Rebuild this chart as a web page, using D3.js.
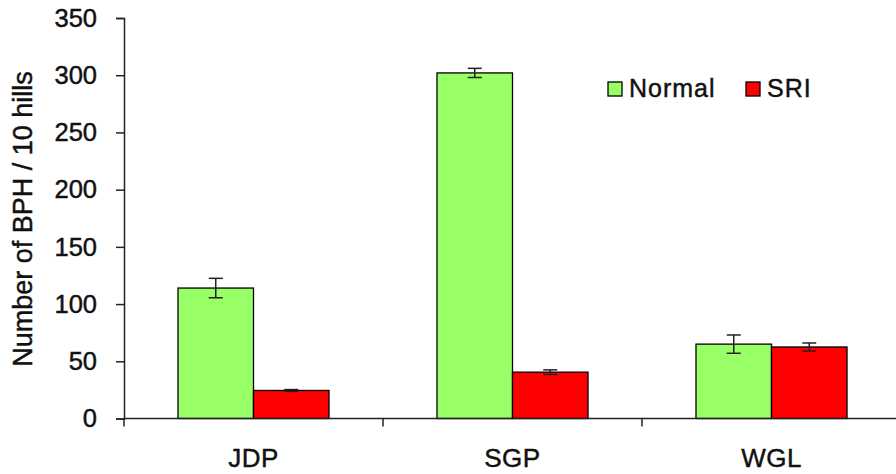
<!DOCTYPE html>
<html>
<head>
<meta charset="utf-8">
<script src="https://cdn.jsdelivr.net/npm/d3@7"></script>
<style>
  html, body { margin: 0; padding: 0; background: #fff; }
  svg { display: block; font-family: "Liberation Sans", Arial, sans-serif; }
  svg text { stroke: #111; stroke-width: 0.45px; }
</style>
</head>
<body>
<svg id="chart" width="896" height="474"></svg>
<script>
// Brown planthopper counts per 10 hills, normal vs SRI cultivation
const sites = ["JDP", "SGP", "WGL"];
const seriesNames = ["Normal", "SRI"];
const normalMeans = [114, 302, 65];
const normalErrors = [8.5, 4, 8];
const sriMeans = [24.5, 40.5, 62.5];
const sriErrors = [0.8, 2, 3.5];
const yTicks = [0, 50, 100, 150, 200, 250, 300, 350];
const colors = ["#99FF66", "#FF0000"];

const svg = d3.select("#chart");
const margin = { left: 124, top: 18, right: -5, bottom: 55 };
const width = 896, height = 474;

const x = d3.scaleBand()
  .domain(sites)
  .range([margin.left, width - margin.right])
  .paddingInner(0)
  .paddingOuter(0);

const inner = d3.scaleBand()
  .domain(seriesNames)
  .range([0, x.bandwidth()])
  .paddingOuter(0.715)
  .paddingInner(0);

const y = d3.scaleLinear()
  .domain([0, 350])
  .range([height - margin.bottom - 0.5, margin.top]);

const data = sites.flatMap((s, i) => [
  { site: s, series: "Normal", value: normalMeans[i], err: normalErrors[i] },
  { site: s, series: "SRI", value: sriMeans[i], err: sriErrors[i] }
]);

// Bars
svg.append("g").selectAll("rect")
  .data(data)
  .join("rect")
  .attr("x", d => x(d.site) + inner(d.series))
  .attr("y", d => y(d.value))
  .attr("width", inner.bandwidth())
  .attr("height", d => y(0) - y(d.value))
  .attr("fill", d => colors[seriesNames.indexOf(d.series)])
  .attr("stroke", "#000")
  .attr("stroke-width", 1.3);

// Error bars
const capHalf = 7;
const eb = svg.append("g").attr("stroke", "#222").attr("stroke-width", 1.5);
data.forEach(d => {
  const cx = x(d.site) + inner(d.series) + inner.bandwidth() / 2;
  const y1 = y(d.value + d.err), y2 = y(d.value - d.err);
  eb.append("line").attr("x1", cx).attr("x2", cx).attr("y1", y1).attr("y2", y2);
  eb.append("line").attr("x1", cx - capHalf).attr("x2", cx + capHalf).attr("y1", y1).attr("y2", y1);
  eb.append("line").attr("x1", cx - capHalf).attr("x2", cx + capHalf).attr("y1", y2).attr("y2", y2);
});

// Y axis
const yAxis = d3.axisLeft(y).tickValues(yTicks).tickSize(8).tickPadding(19);
const gy = svg.append("g")
  .attr("transform", `translate(${margin.left},0)`)
  .call(yAxis);
gy.select(".domain").attr("stroke", "#222").attr("stroke-width", 1.5);
gy.selectAll(".tick line").attr("stroke", "#222").attr("stroke-width", 1.5);
gy.selectAll(".tick text")
  .attr("font-size", 25.5)
  .attr("fill", "#111")
  .attr("font-family", "Liberation Sans, Arial, sans-serif");

// X axis: ticks at category boundaries
const gx = svg.append("g").attr("transform", `translate(0,${y(0)})`);
gx.append("line")
  .attr("x1", margin.left).attr("x2", width)
  .attr("stroke", "#222").attr("stroke-width", 1.5);
const bounds = sites.map(s => x(s)).concat([x(sites[sites.length - 1]) + x.bandwidth()]);
gx.selectAll("line.bound")
  .data(bounds)
  .join("line")
  .attr("class", "bound")
  .attr("x1", d => d).attr("x2", d => d)
  .attr("y1", 0).attr("y2", 8)
  .attr("stroke", "#222").attr("stroke-width", 1.5);
gx.selectAll("text")
  .data(sites)
  .join("text")
  .attr("x", d => x(d) + x.bandwidth() / 2)
  .attr("y", 48)
  .attr("text-anchor", "middle")
  .attr("font-size", 26)
  .attr("letter-spacing", 0.5)
  .attr("fill", "#111")
  .text(d => d);

// Y axis title
svg.append("text")
  .attr("transform", `translate(32,219) rotate(-90)`)
  .attr("text-anchor", "middle")
  .attr("font-size", 27)
  .attr("fill", "#111")
  .text("Number of BPH / 10 hills");

// Legend
const legendItems = [
  { name: "Normal", x: 608 },
  { name: "SRI", x: 746 }
];
const lg = svg.append("g");
legendItems.forEach((it, i) => {
  lg.append("rect")
    .attr("x", it.x).attr("y", 82)
    .attr("width", 14).attr("height", 14)
    .attr("fill", colors[i])
    .attr("stroke", "#000").attr("stroke-width", 1.3);
  lg.append("text")
    .attr("x", it.x + 21).attr("y", 97)
    .attr("font-size", 25)
    .attr("letter-spacing", 1)
    .attr("fill", "#111")
    .text(it.name);
});
</script>
</body>
</html>
